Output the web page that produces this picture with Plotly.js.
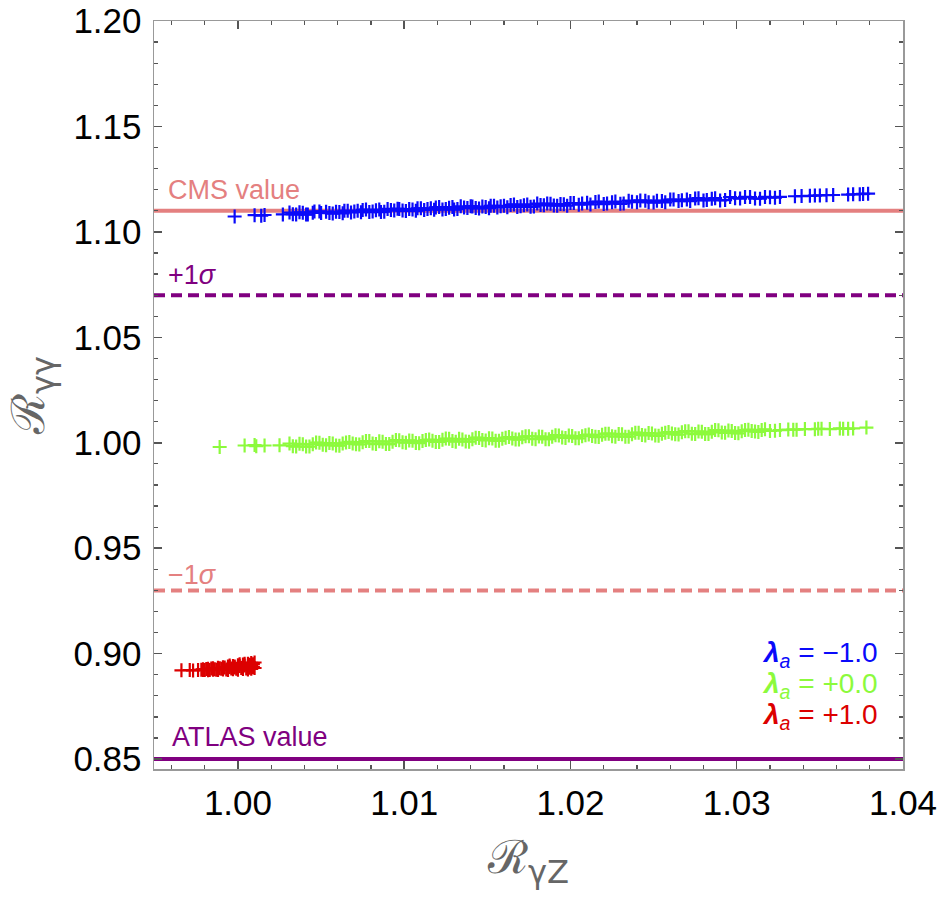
<!DOCTYPE html>
<html>
<head>
<meta charset="utf-8">
<script src="https://cdn.plot.ly/plotly-3.0.1.min.js"></script>
<style>
  html, body { margin: 0; padding: 0; background: #fff; }
  #chart { width: 941px; height: 897px; }
</style>
</head>
<body>
<div id="chart"></div>
<script>
// lambda_a = -1.0
const blueX = [0.9998, 1.0010, 1.0014, 1.0016, 1.0027, 1.0031, 1.0035, 1.0039, 1.0042, 1.0046,
  1.0050, 1.0053, 1.0057, 1.0061, 1.0064, 1.0068, 1.0072, 1.0075, 1.0079, 1.0083,
  1.0086, 1.0090, 1.0094, 1.0097, 1.0101, 1.0105, 1.0108, 1.0112, 1.0116, 1.0119,
  1.0123, 1.0127, 1.0130, 1.0134, 1.0138, 1.0141, 1.0145, 1.0149, 1.0152, 1.0156,
  1.0160, 1.0164, 1.0168, 1.0172, 1.0176, 1.0180, 1.0184, 1.0188, 1.0192, 1.0196,
  1.0200, 1.0205, 1.0210, 1.0215, 1.0220, 1.0225, 1.0230, 1.0235, 1.0240, 1.0245,
  1.0250, 1.0255, 1.0260, 1.0265, 1.0270, 1.0275, 1.0280, 1.0285, 1.0290, 1.0296,
  1.0302, 1.0308, 1.0314, 1.0320, 1.0326, 1.0335, 1.0344, 1.0347, 1.0350, 1.0354,
  1.0367, 1.0370, 1.0374, 1.0379,
  1.0033, 1.0037, 1.0041, 1.0045, 1.0049, 1.0055, 1.0059, 1.0063, 1.0066, 1.0070,
  1.0074, 1.0077, 1.0081, 1.0085, 1.0088, 1.0092, 1.0096, 1.0099, 1.0103, 1.0107,
  1.0110, 1.0114, 1.0118, 1.0121, 1.0125, 1.0129, 1.0132, 1.0136, 1.0140, 1.0143,
  1.0147, 1.0151, 1.0154, 1.0158, 1.0162, 1.0166, 1.0170, 1.0174, 1.0178, 1.0182,
  1.0186, 1.0190, 1.0194, 1.0198, 1.0202, 1.0207, 1.0212, 1.0217, 1.0222, 1.0227,
  1.0232, 1.0237, 1.0242, 1.0247, 1.0252, 1.0257, 1.0262, 1.0267, 1.0272, 1.0277,
  1.0282, 1.0287, 1.0293, 1.0299, 1.0305, 1.0311, 1.0317, 1.0323, 1.0339, 1.0358, 1.0376];
const blueY = [1.1073, 1.1079, 1.1077, 1.1080, 1.1083, 1.1092, 1.1082, 1.1091, 1.1082, 1.1097,
  1.1090, 1.1096, 1.1087, 1.1094, 1.1100, 1.1092, 1.1100, 1.1104, 1.1094, 1.1102,
  1.1094, 1.1109, 1.1101, 1.1108, 1.1099, 1.1106, 1.1112, 1.1104, 1.1112, 1.1116,
  1.1106, 1.1114, 1.1106, 1.1121, 1.1113, 1.1120, 1.1111, 1.1118, 1.1124, 1.1116,
  1.1124, 1.1128, 1.1118, 1.1126, 1.1119, 1.1134, 1.1126, 1.1133, 1.1124, 1.1131,
  1.1137, 1.1129, 1.1138, 1.1142, 1.1132, 1.1141, 1.1133, 1.1148, 1.1141, 1.1148,
  1.1139, 1.1147, 1.1153, 1.1146, 1.1154, 1.1158, 1.1149, 1.1157, 1.1149, 1.1165,
  1.1158, 1.1165, 1.1157, 1.1164, 1.1166, 1.1169, 1.1171, 1.1172, 1.1173, 1.1174,
  1.1177, 1.1178, 1.1179, 1.1181,
  1.1084, 1.1093, 1.1083, 1.1091, 1.1097, 1.1089, 1.1096, 1.1088, 1.1100, 1.1097,
  1.1093, 1.1106, 1.1097, 1.1106, 1.1096, 1.1104, 1.1110, 1.1101, 1.1108, 1.1100,
  1.1112, 1.1109, 1.1105, 1.1118, 1.1109, 1.1118, 1.1108, 1.1116, 1.1122, 1.1113,
  1.1120, 1.1112, 1.1124, 1.1121, 1.1117, 1.1130, 1.1121, 1.1130, 1.1120, 1.1128,
  1.1134, 1.1125, 1.1132, 1.1124, 1.1137, 1.1134, 1.1130, 1.1144, 1.1135, 1.1144,
  1.1135, 1.1143, 1.1149, 1.1141, 1.1148, 1.1140, 1.1153, 1.1150, 1.1146, 1.1160,
  1.1151, 1.1160, 1.1151, 1.1160, 1.1166, 1.1158, 1.1166, 1.1162, 1.1170, 1.1175, 1.1180];

// lambda_a = +0.0
const greenX = [0.9989, 1.0004, 1.0010, 1.0011, 1.0016, 1.0025,
  1.0031, 1.0035, 1.0039, 1.0043, 1.0047, 1.0051, 1.0055, 1.0059, 1.0063, 1.0067,
  1.0071, 1.0075, 1.0079, 1.0083, 1.0087, 1.0091, 1.0095, 1.0099, 1.0103, 1.0107,
  1.0111, 1.0115, 1.0119, 1.0123, 1.0127, 1.0131, 1.0135, 1.0139, 1.0143, 1.0147,
  1.0151, 1.0155, 1.0159, 1.0163, 1.0167, 1.0171, 1.0175, 1.0179, 1.0183, 1.0187,
  1.0191, 1.0195, 1.0199, 1.0203, 1.0207, 1.0211, 1.0215, 1.0219, 1.0223, 1.0227,
  1.0231, 1.0235, 1.0239, 1.0243, 1.0247, 1.0251, 1.0255, 1.0259, 1.0263, 1.0267,
  1.0271, 1.0275, 1.0279, 1.0283, 1.0287, 1.0291, 1.0295, 1.0299, 1.0303, 1.0307,
  1.0311, 1.0315, 1.0320, 1.0326, 1.0331, 1.0336, 1.0341, 1.0347, 1.0351, 1.0356,
  1.0364, 1.0367, 1.0370, 1.0378,
  1.0033, 1.0037, 1.0041, 1.0045, 1.0049, 1.0053, 1.0057, 1.0061, 1.0065, 1.0069,
  1.0073, 1.0077, 1.0081, 1.0085, 1.0089, 1.0093, 1.0097, 1.0101, 1.0105, 1.0109,
  1.0113, 1.0117, 1.0121, 1.0125, 1.0129, 1.0133, 1.0137, 1.0141, 1.0145, 1.0149,
  1.0153, 1.0157, 1.0161, 1.0165, 1.0169, 1.0173, 1.0177, 1.0181, 1.0185, 1.0189,
  1.0193, 1.0197, 1.0201, 1.0205, 1.0209, 1.0213, 1.0217, 1.0221, 1.0225, 1.0229,
  1.0233, 1.0237, 1.0241, 1.0245, 1.0249, 1.0253, 1.0257, 1.0261, 1.0265, 1.0269,
  1.0273, 1.0277, 1.0281, 1.0285, 1.0289, 1.0293, 1.0297, 1.0301, 1.0305, 1.0309,
  1.0313, 1.0317, 1.0323, 1.0334, 1.0349, 1.0362];
const greenY = [0.9980, 0.9987, 0.9989, 0.9984, 0.9987, 0.9988,
  0.9996, 0.9982, 0.9993, 0.9982, 1.0001, 0.9990, 0.9999, 0.9987, 0.9996, 1.0004,
  0.9993, 1.0003, 1.0008, 0.9994, 1.0005, 0.9994, 1.0013, 1.0002, 1.0011, 0.9999,
  1.0008, 1.0015, 1.0004, 1.0014, 1.0019, 1.0005, 1.0016, 1.0005, 1.0024, 1.0013,
  1.0022, 1.0010, 1.0019, 1.0027, 1.0016, 1.0026, 1.0031, 1.0017, 1.0028, 1.0017,
  1.0036, 1.0025, 1.0034, 1.0022, 1.0031, 1.0039, 1.0028, 1.0038, 1.0043, 1.0029,
  1.0040, 1.0029, 1.0048, 1.0037, 1.0046, 1.0034, 1.0043, 1.0051, 1.0040, 1.0050,
  1.0055, 1.0041, 1.0052, 1.0041, 1.0060, 1.0049, 1.0058, 1.0046, 1.0055, 1.0062,
  1.0053, 1.0061, 1.0056, 1.0060, 1.0063, 1.0062, 1.0065, 1.0064, 1.0066, 1.0065,
  1.0067, 1.0066, 1.0068, 1.0072,
  0.9984, 0.9995, 0.9982, 0.9993, 1.0000, 0.9988, 0.9997, 0.9986, 1.0001, 0.9997,
  0.9992, 1.0008, 0.9996, 1.0007, 0.9994, 1.0005, 1.0012, 1.0000, 1.0009, 0.9998,
  1.0013, 1.0009, 1.0004, 1.0020, 1.0008, 1.0019, 1.0006, 1.0017, 1.0023, 1.0011,
  1.0020, 1.0009, 1.0024, 1.0020, 1.0015, 1.0031, 1.0019, 1.0030, 1.0017, 1.0028,
  1.0035, 1.0023, 1.0032, 1.0021, 1.0036, 1.0032, 1.0027, 1.0043, 1.0031, 1.0042,
  1.0029, 1.0040, 1.0047, 1.0035, 1.0044, 1.0033, 1.0048, 1.0044, 1.0039, 1.0055,
  1.0043, 1.0054, 1.0041, 1.0052, 1.0059, 1.0047, 1.0056, 1.0045, 1.0060, 1.0056,
  1.0051, 1.0064, 1.0057, 1.0062, 1.0066, 1.0068];

// lambda_a = +1.0
const redX = [0.9966, 0.9971, 0.9973, 0.9976,
  0.9979, 0.9979, 0.9982, 0.9982, 0.9985, 0.9985, 0.9988, 0.9988, 0.9988,
  0.9991, 0.9991, 0.9994, 0.9994, 0.9994, 0.9997, 0.9997, 1.0000, 1.0000, 1.0000,
  1.0003, 1.0003, 1.0003, 1.0006, 1.0006, 1.0006, 1.0008, 1.0008, 1.0008, 1.0010, 1.0010,
  0.9978, 0.9980, 0.9981, 0.9983, 0.9984, 0.9986, 0.9987, 0.9989, 0.9990, 0.9992,
  0.9993, 0.9995, 0.9996, 0.9998, 0.9999, 1.0001, 1.0002, 1.0004, 1.0005, 1.0007,
  1.0009, 1.0009, 1.0007, 1.0004, 1.0001, 0.9998, 0.9995];
const redY = [0.8921, 0.8922, 0.8920, 0.8922,
  0.8923, 0.8926, 0.8921, 0.8928, 0.8924, 0.8931, 0.8922, 0.8933, 0.8928,
  0.8925, 0.8936, 0.8923, 0.8939, 0.8931, 0.8926, 0.8942, 0.8924, 0.8945, 0.8935,
  0.8927, 0.8948, 0.8938, 0.8925, 0.8952, 0.8940, 0.8928, 0.8956, 0.8943, 0.8932, 0.8958,
  0.8924, 0.8922, 0.8927, 0.8923, 0.8929, 0.8926, 0.8924, 0.8931, 0.8928, 0.8934,
  0.8925, 0.8937, 0.8930, 0.8939, 0.8928, 0.8941, 0.8932, 0.8944, 0.8929, 0.8947,
  0.8950, 0.8936, 0.8933, 0.8952, 0.8950, 0.8934, 0.8944];

const refNames = ['CMS value', '+1<i>σ</i>', '−1<i>σ</i>', 'ATLAS value'];
const refValues = [1.11, 1.07, 0.93, 0.85];
const refLabelY = [1.1198, 1.0795, 0.9373, 0.8603];
const refLabelX = [0.9957, 0.9957, 0.9957, 0.9959];
const legendNames = ['−1.0', '+0.0', '+1.0'];
const legendY = [0.8997, 0.8847, 0.8700];

const salmon = 'rgb(228,128,128)';
const purple = 'rgb(128,0,128)';
const refColors = [salmon, purple, salmon, purple];
const refDash = ['solid', '11px,6px', '11px,6px', 'solid'];
const seriesColors = ['rgb(10,10,250)', 'rgb(140,250,60)', 'rgb(220,0,0)'];

const font = 'Liberation Sans, Arial, sans-serif';
const sub = s => '<sub><span style="font-family:DejaVu Sans">' + s + '</span></sub>';

const crossTrace = (x, y, color) => ({
  x, y,
  type: 'scatter',
  mode: 'markers',
  marker: { symbol: 'cross-thin', size: 10, color: color, line: { color: color, width: 2.2 } },
  hoverinfo: 'skip',
  showlegend: false
});

const data = [
  crossTrace(redX, redY, seriesColors[2]),
  crossTrace(greenX, greenY, seriesColors[1]),
  crossTrace(blueX, blueY, seriesColors[0])
];

const shapes = refValues.map((v, i) => ({
  type: 'line', xref: 'paper', yref: 'y',
  x0: 0, x1: 1, y0: v, y1: v,
  line: { color: refColors[i], width: 4, dash: refDash[i] },
  layer: 'below'
}));

const annotations = refNames.map((t, i) => ({
  x: refLabelX[i], y: refLabelY[i], xref: 'x', yref: 'y',
  text: t, showarrow: false, xanchor: 'left', yanchor: 'middle',
  font: { family: font, size: 27, color: refColors[i] }
}));

legendNames.forEach((t, i) => {
  annotations.push({
    x: 1.0386, y: legendY[i], xref: 'x', yref: 'y',
    text: '<b><i>λ</i></b><sub><i>a</i></sub> = ' + t,
    showarrow: false, xanchor: 'right', yanchor: 'middle',
    font: { family: font, size: 28, color: seriesColors[i] }
  });
});

const axisBase = {
  showline: true, linecolor: '#999', linewidth: 1.5,
  mirror: 'ticks', ticks: 'inside', ticklen: 8, tickwidth: 1.5, tickcolor: '#555',
  showgrid: false, zeroline: false,
  tickfont: { family: font, size: 35, color: '#000' }
};

const layout = {
  width: 941, height: 897,
  margin: { l: 154, r: 38, t: 21, b: 128 },
  paper_bgcolor: '#fff', plot_bgcolor: '#fff',
  showlegend: false,
  xaxis: Object.assign({}, axisBase, {
    range: [0.99495, 1.04], dtick: 0.01, tick0: 1.0, tickformat: '.2f',
    minor: { dtick: 0.002, ticks: 'inside', ticklen: 4, tickwidth: 1.2, tickcolor: '#555' },
    ticklabelstandoff: 2,
    title: { text: 'ℛ' + sub('γZ'), font: { family: 'DejaVu Serif, serif', size: 46, color: '#666' }, standoff: 20 }
  }),
  yaxis: Object.assign({}, axisBase, {
    range: [0.8453, 1.20], dtick: 0.05, tick0: 0.85, tickformat: '.2f',
    minor: { dtick: 0.01, ticks: 'inside', ticklen: 4, tickwidth: 1.2, tickcolor: '#555' },
    ticklabelstandoff: 4,
    title: { text: 'ℛ' + sub('γγ'), font: { family: 'DejaVu Serif, serif', size: 46, color: '#666' }, standoff: 14 }
  }),
  shapes, annotations
};

Plotly.newPlot('chart', data, layout, { staticPlot: true });
</script>
</body>
</html>
